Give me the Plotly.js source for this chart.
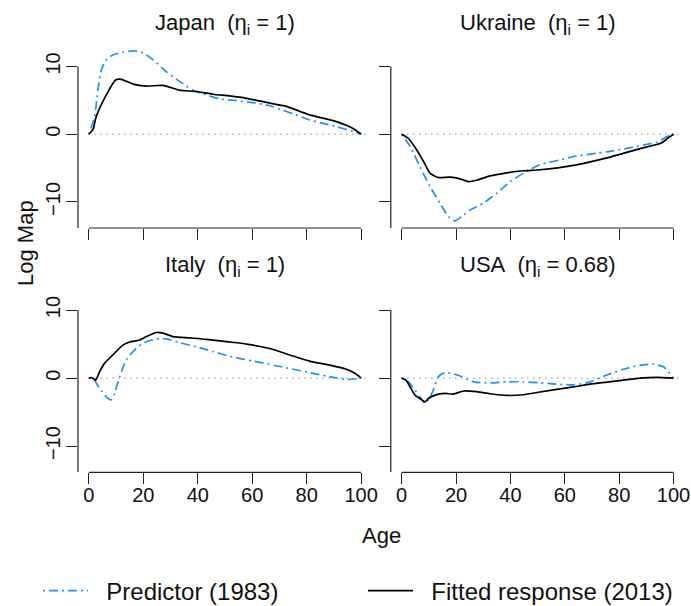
<!DOCTYPE html>
<html>
<head>
<meta charset="utf-8">
<script src="https://cdn.plot.ly/plotly-3.0.1.min.js"></script>
<style>html,body{margin:0;padding:0;background:#fff;}#plot{width:691px;height:606px;}</style>
</head>
<body>
<div id="plot"></div>
<script>
// ---- data ----
const panelNames = ["Japan", "Ukraine", "Italy", "USA"];
const etaValues = ["1", "1", "1", "0.68"];
const seriesNames = ["Predictor (1983)", "Fitted response (2013)"];
const xTicks = [0, 20, 40, 60, 80, 100];
const yTicks = [-10, 0, 10];
const yTickText = ["\u221210", "0", "10"];

const japanPredAge = [0, 2.1, 3.3, 4.6, 6.4, 8.8, 12.5, 16.8, 19.9, 23.5, 28.5, 33.3, 38.2, 43.2, 48.1, 54.2, 60.3, 66.4, 70.1, 75, 81.1, 86, 91, 97.1, 100];
const japanPredVal = [0, 2.6, 6.5, 9.5, 11.0, 11.7, 12.1, 12.3, 12.0, 11.0, 9.2, 7.8, 6.5, 5.8, 5.2, 4.96, 4.66, 4.2, 3.7, 3.0, 2.1, 1.6, 1.1, 0.4, 0];
const japanFitAge = [0, 1.5, 2.7, 6.4, 9.8, 11.9, 16.2, 21.1, 27.2, 33.3, 39.5, 45.6, 51.7, 57.9, 64, 70.1, 72.6, 81.1, 89.7, 95.8, 98.3, 100];
const japanFitVal = [0, 0.7, 2.6, 5.8, 8.0, 8.1, 7.4, 7.1, 7.2, 6.5, 6.3, 5.9, 5.65, 5.3, 4.8, 4.3, 4.1, 2.85, 2.0, 1.1, 0.5, 0];

const ukrainePredAge = [0, 3.1, 6.7, 10.4, 14.1, 17.2, 19.6, 22.1, 25.1, 30, 35, 39.9, 44.8, 50.9, 58.3, 63.2, 71.8, 75.5, 84, 93.9, 98.8, 100];
const ukrainePredVal = [0, -1.8, -4.8, -7.7, -10.2, -12.15, -12.8, -12.15, -11.2, -10.2, -8.7, -7.0, -5.75, -4.5, -3.8, -3.3, -2.8, -2.6, -2.0, -1.15, -0.1, 0];
const ukraineFitAge = [0, 2.4, 5.5, 8, 10.4, 13.5, 17.8, 21.5, 24.5, 27.6, 32.5, 38.7, 44.8, 50.9, 63.2, 75.5, 88, 95.5, 98.5, 100];
const ukraineFitVal = [0, -0.6, -2.3, -4.0, -5.75, -6.4, -6.35, -6.6, -7.0, -6.8, -6.15, -5.7, -5.4, -5.25, -4.6, -3.5, -2.1, -1.3, -0.4, 0];

const italyPredAge = [0, 1.5, 3.9, 6.4, 8.2, 9.4, 11.3, 13.7, 17.4, 21.1, 24.8, 28.5, 33.3, 39.5, 45.6, 51.7, 60.3, 72.6, 82.4, 89.7, 94.6, 98.3, 100];
const italyPredVal = [0, 0, -1.5, -2.75, -3.2, -2.25, 0.2, 2.65, 4.4, 5.35, 5.75, 5.75, 5.2, 4.6, 3.9, 3.2, 2.5, 1.5, 0.7, 0.1, -0.2, -0.1, 0];
const italyFitAge = [0, 1.2, 2.5, 3.9, 5.8, 8.8, 12.5, 15, 18.6, 21.1, 24.8, 27.2, 30.9, 37, 43.2, 50.5, 57.9, 66.4, 73.8, 81.1, 88.5, 94.6, 97.7, 100];
const italyFitVal = [0, 0.05, -0.3, 0.9, 2.2, 3.4, 4.85, 5.3, 5.6, 6.1, 6.7, 6.6, 6.1, 5.9, 5.7, 5.35, 5.0, 4.35, 3.4, 2.5, 1.9, 1.3, 0.7, 0];

const usaPredAge = [0, 2.4, 4.9, 6.7, 8.6, 9.8, 11.6, 13.5, 15.9, 18.4, 22.1, 26.4, 32.5, 38.7, 44.8, 50.9, 57.1, 63.2, 69.3, 75.5, 81.6, 87.7, 92.6, 96.3, 98.2, 99.8];
const usaPredVal = [0, -0.5, -1.8, -2.75, -3.7, -3.2, -1.8, 0.2, 0.8, 0.7, 0.2, -0.55, -0.7, -0.55, -0.55, -0.7, -0.9, -1.0, -0.55, 0.45, 1.3, 1.9, 2.05, 1.65, 0.9, 0.1];
const usaFitAge = [0, 1.6, 3.1, 4.9, 7.4, 8.6, 9.8, 12.3, 15.9, 19, 22.7, 27.6, 32.5, 38.7, 44.8, 50.9, 57.1, 63.2, 69.3, 75.5, 81.6, 87.7, 93.9, 100];
const usaFitVal = [0, -0.3, -1.3, -2.5, -3.2, -3.5, -3.0, -2.5, -2.25, -2.35, -1.9, -2.0, -2.3, -2.55, -2.45, -2.05, -1.65, -1.3, -0.9, -0.6, -0.3, 0, 0.1, 0];

// ---- chart construction ----
const predData = [[japanPredAge, japanPredVal], [ukrainePredAge, ukrainePredVal], [italyPredAge, italyPredVal], [usaPredAge, usaPredVal]];
const fitData = [[japanFitAge, japanFitVal], [ukraineFitAge, ukraineFitVal], [italyFitAge, italyFitVal], [usaFitAge, usaFitVal]];

const W = 691, H = 606;
const px = v => v / W;
const py = v => 1 - v / H;
const xDomains = [[px(78), px(372)], [px(390.8), px(684.4)]];
const yDomains = [[py(228), py(44.1)], [py(472.3), py(287.6)]];
const xRange = [-4, 104];
const yRange = [-13.85, 13.3];
const FONT = "Liberation Sans, Arial, Helvetica, sans-serif";
const AX = "#222";
const GAP = "\u00a0\u00a0";

const traces = [];
const layout = {
  width: W, height: H,
  margin: {l: 0, r: 0, t: 0, b: 0, autoexpand: false},
  paper_bgcolor: "#fff", plot_bgcolor: "#fff",
  font: {family: FONT, color: "#111", size: 20},
  showlegend: true,
  legend: {orientation: "h", x: px(38), xanchor: "left", y: py(591), yanchor: "middle",
           font: {size: 24, family: FONT, color: "#111"}, itemwidth: 45,
           bgcolor: "rgba(0,0,0,0)", traceorder: "normal"},
  shapes: [], annotations: []
};

for (let i = 0; i < 4; i++) {
  const col = i % 2, row = Math.floor(i / 2);
  const n = i === 0 ? "" : String(i + 1);
  const xa = "x" + n, ya = "y" + n;
  traces.push({
    x: predData[i][0], y: predData[i][1], xaxis: xa, yaxis: ya, type: "scatter", mode: "lines",
    name: GAP + seriesNames[0], showlegend: i === 0, legendgroup: "p", legendwidth: 265,
    line: {color: "#1E90FF", width: 1.7, dash: "2px,4px,9px,4px", shape: "spline", smoothing: 0.6}
  });
  traces.push({
    x: fitData[i][0], y: fitData[i][1], xaxis: xa, yaxis: ya, type: "scatter", mode: "lines",
    name: GAP + seriesNames[1], showlegend: i === 0, legendgroup: "f", legendwidth: 250,
    line: {color: "#000", width: 1.7, shape: "spline", smoothing: 0.6}
  });
  layout["xaxis" + n] = {
    domain: xDomains[col], anchor: ya, range: xRange, fixedrange: true,
    showgrid: false, zeroline: false, showline: false,
    ticks: "outside", tickvals: xTicks, ticktext: xTicks.map(String), ticklen: 11, tickwidth: 1, tickcolor: AX,
    ticklabelstandoff: -6,
    showticklabels: row === 1, tickfont: {size: 20, family: FONT, color: "#111"}
  };
  layout["yaxis" + n] = {
    domain: yDomains[row], anchor: xa, range: yRange, fixedrange: true,
    showgrid: false, zeroline: false, showline: false,
    ticks: "outside", tickvals: yTicks, ticktext: yTickText, ticklen: 11, tickwidth: 1, tickcolor: AX,
    ticklabelstandoff: -2,
    tickangle: -90, showticklabels: col === 0, tickfont: {size: 20, family: FONT, color: "#111"}
  };
  // axis lines (R style: y line from bottom of region to top tick, x line spanning ticks)
  layout.shapes.push({type: "line", xref: xa + " domain", yref: ya, x0: 0, x1: 0,
    y0: yRange[0], y1: yTicks[yTicks.length - 1], line: {color: AX, width: 1.2}});
  layout.shapes.push({type: "line", xref: xa, yref: ya + " domain", x0: xTicks[0], x1: xTicks[xTicks.length - 1],
    y0: 0, y1: 0, line: {color: AX, width: 1.2}});
  // dotted zero reference line
  layout.shapes.push({type: "line", xref: xa + " domain", yref: ya, x0: 0.035, x1: 0.99, y0: 0, y1: 0,
    line: {color: "#888", width: 1, dash: "1.5px,4.5px"}, layer: "below"});
  // panel title
  const cx = (xDomains[col][0] + xDomains[col][1]) / 2;
  layout.annotations.push({
    xref: "paper", yref: "paper", x: cx, y: row === 0 ? py(24) : py(266), xanchor: "center", yanchor: "middle",
    text: panelNames[i] + "\u00a0\u00a0(\u03b7<sub>i</sub> = " + etaValues[i] + ")", showarrow: false,
    font: {size: 22, family: FONT, color: "#111"}
  });
}
layout.annotations.push({xref: "paper", yref: "paper", x: px(25), y: py(243), text: "Log Map", textangle: -90,
  showarrow: false, xanchor: "center", yanchor: "middle", font: {size: 22, family: FONT, color: "#111"}});
layout.annotations.push({xref: "paper", yref: "paper", x: px(381), y: py(535), text: "Age",
  showarrow: false, xanchor: "center", yanchor: "middle", font: {size: 22, family: FONT, color: "#111"}});

Plotly.newPlot("plot", traces, layout, {staticPlot: true, displayModeBar: false});
</script>
</body>
</html>
